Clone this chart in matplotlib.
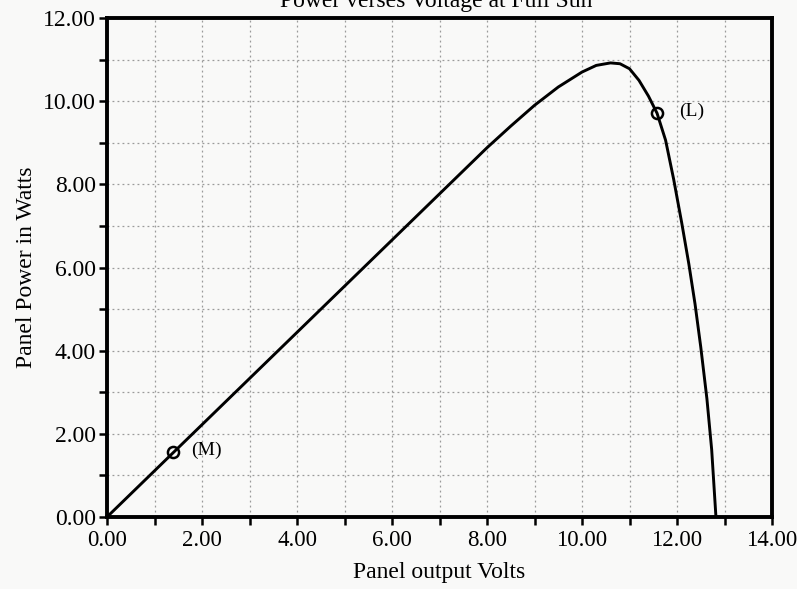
import matplotlib
matplotlib.use("Agg")
import matplotlib.pyplot as plt
from matplotlib.ticker import MultipleLocator, FormatStrFormatter
from matplotlib.transforms import ScaledTranslation

plt.rcParams['font.family'] = ['Liberation Serif', 'DejaVu Serif']

volts = [0, 1.0, 2.0, 3.0, 4.0, 5.0, 6.0, 7.0, 8.0, 8.5, 9.0, 9.5, 10.0, 10.3, 10.6,
         10.8, 11.0, 11.2, 11.4, 11.58, 11.76, 11.93, 12.1, 12.25, 12.38, 12.5, 12.63, 12.73, 12.82]
power = [0, 1.11, 2.22, 3.33, 4.44, 5.55, 6.66, 7.77, 8.88, 9.40, 9.90, 10.34, 10.70, 10.86, 10.92,
         10.90, 10.78, 10.50, 10.12, 9.71, 9.06, 8.12, 7.07, 6.08, 5.12, 4.09, 2.84, 1.62, 0.0]
marker_v = [1.39, 11.58]
marker_p = [1.56, 9.71]
marker_labels = ["(M)", "(L)"]
label_offsets_v = [0.39, 0.46]

fig = plt.figure(figsize=(7.97, 5.89), dpi=100)
fig.patch.set_facecolor('#f9f9f8')
ax = fig.add_axes([107/797, 1-517/589, (772-107)/797, (517-18)/589])
ax.set_facecolor('#f9f9f8')

ax.plot(volts, power, color='black', lw=2.1, solid_joinstyle='round', zorder=3)
ax.plot(marker_v, marker_p, 'o', mfc='none', mec='black', ms=8, mew=1.8, zorder=4)
for v, p, lab, dv in zip(marker_v, marker_p, marker_labels, label_offsets_v):
    ax.text(v + dv, p + 0.05, lab, fontsize=14, va='center', ha='left')

ax.set_xlim(0, 14)
ax.set_ylim(0, 12)
ax.xaxis.set_major_locator(MultipleLocator(2))
ax.xaxis.set_minor_locator(MultipleLocator(1))
ax.yaxis.set_major_locator(MultipleLocator(2))
ax.yaxis.set_minor_locator(MultipleLocator(1))
ax.xaxis.set_major_formatter(FormatStrFormatter('%.2f'))
ax.yaxis.set_major_formatter(FormatStrFormatter('%.2f'))
ax.grid(which='both', color='#9a9a9a', linestyle=(0, (1.5, 2.5)), lw=0.9, zorder=1)

for s in ax.spines.values():
    s.set_linewidth(2.8)
    s.set_color('black')

ax.tick_params(which='both', direction='out', width=1.8, color='black', labelsize=17)
ax.tick_params(which='major', length=6)
ax.tick_params(which='minor', length=6)
ax.tick_params(axis='x', pad=3, labelsize=16.5)
ax.tick_params(axis='y', pad=2)

ax.set_xlabel('Panel output Volts', fontsize=17, labelpad=8)
ax.set_ylabel('Panel Power in Watts', fontsize=17, labelpad=4)

fig.canvas.draw()
last = ax.get_xticklabels()[-1]
last.set_transform(last.get_transform() + ScaledTranslation(-5/100, 0, fig.dpi_scale_trans))

fig.text(436/797, 1-7/589, 'Power verses Voltage at Full Sun', fontsize=17,
         ha='center', va='baseline')

fig.savefig('out.png', dpi=100, facecolor=fig.get_facecolor())
